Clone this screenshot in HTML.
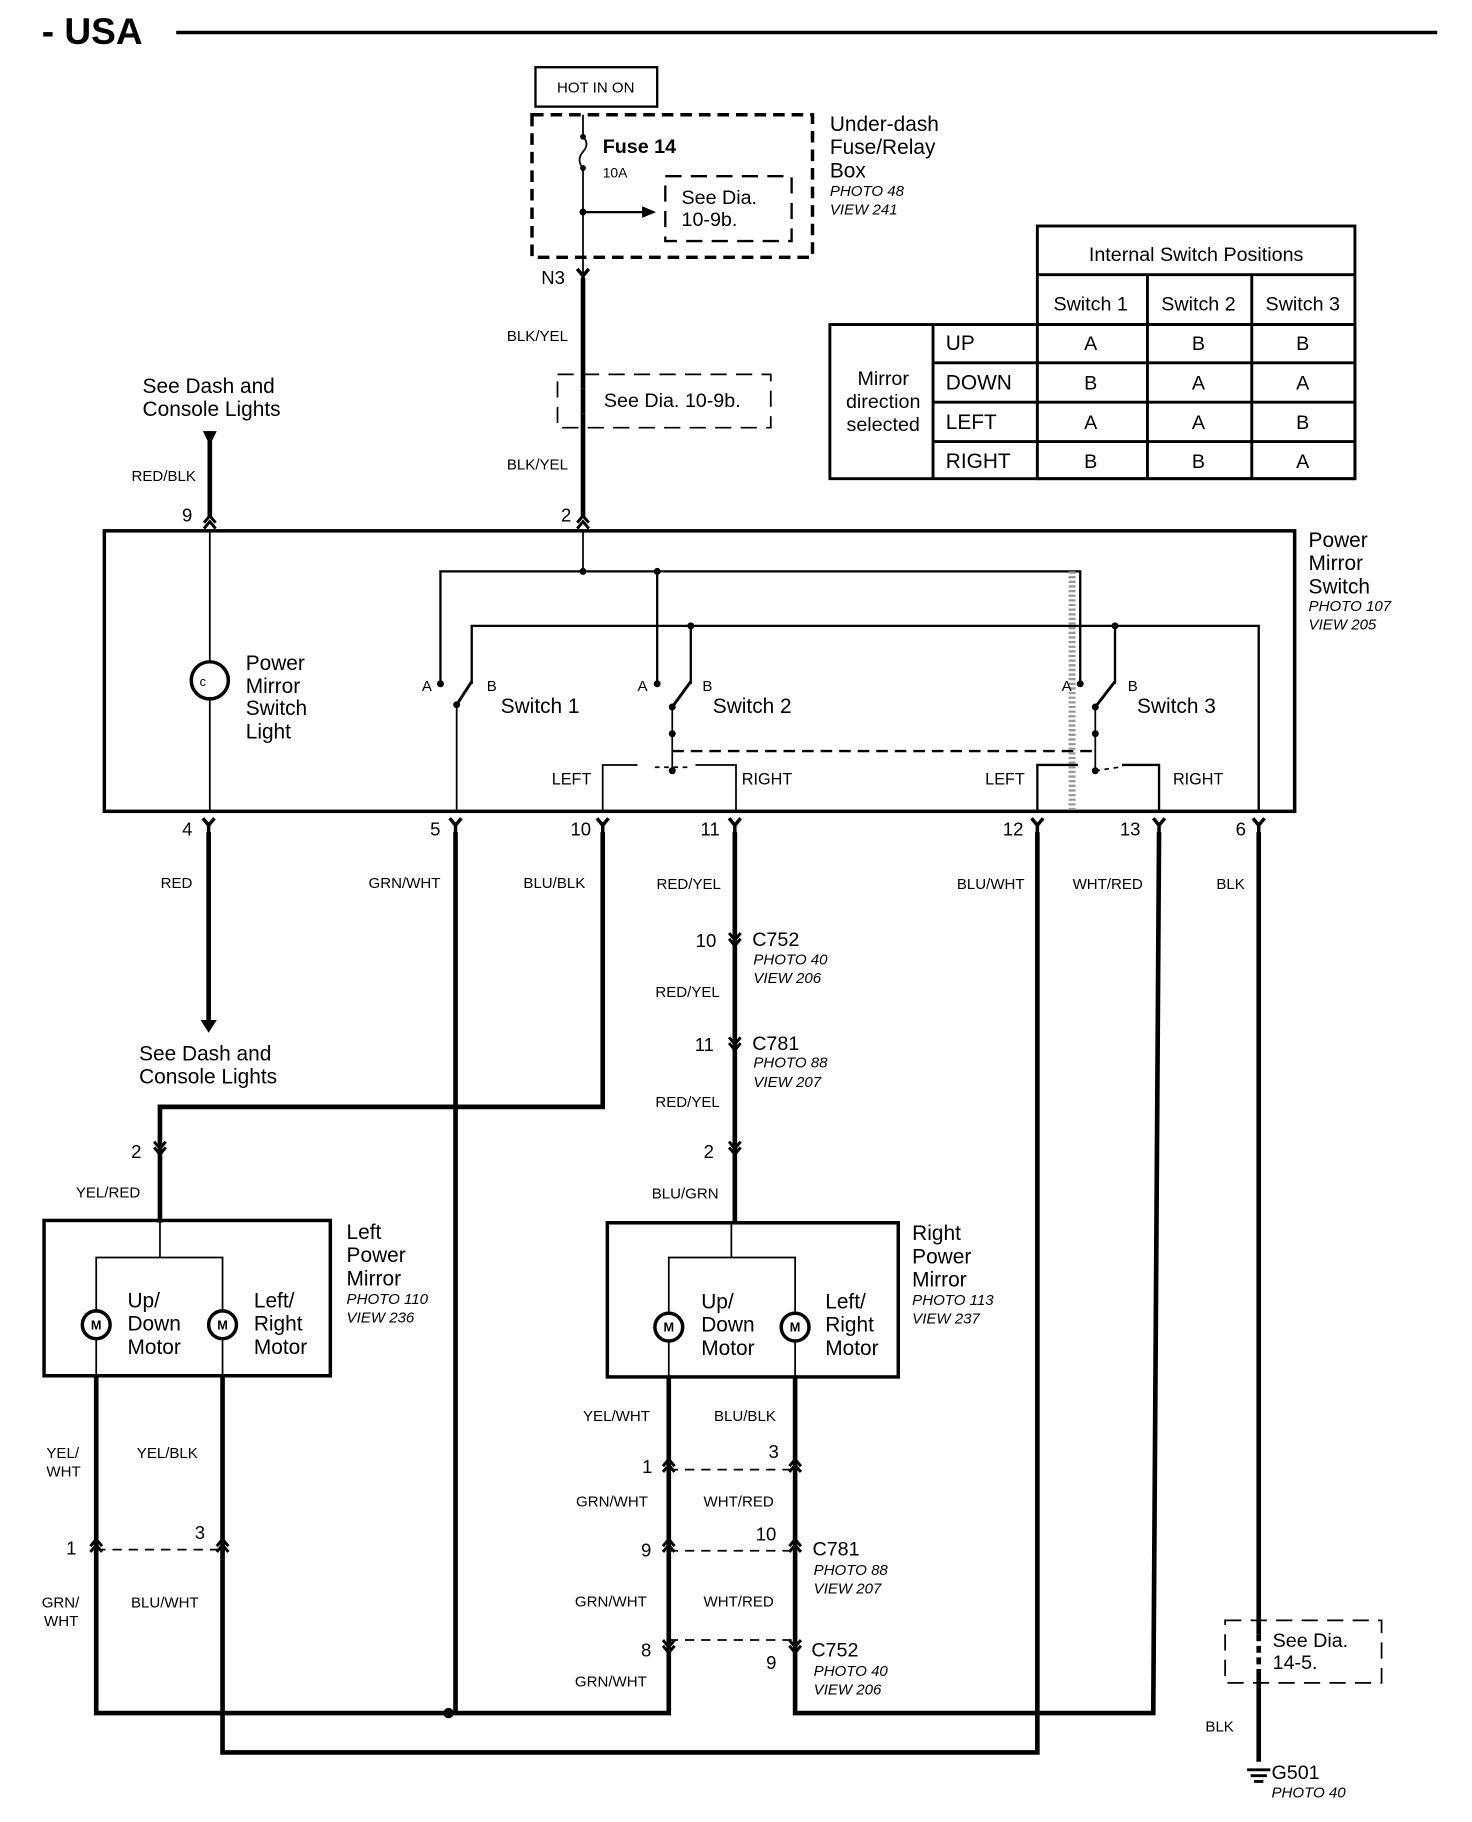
<!DOCTYPE html>
<html><head><meta charset="utf-8"><style>
html,body{margin:0;padding:0;background:#fff}
svg{display:block}
text{font-family:"Liberation Sans",sans-serif;fill:#000}
.w{font-size:13px}
.l{font-size:18px}
.i{font-size:13px;font-style:italic}
.b{font-weight:bold}
</style></head><body>
<svg width="1472" height="1822" viewBox="0 0 1270 1572" xmlns="http://www.w3.org/2000/svg">
<defs>
<g id="cu"><path d="M-5,7 L0,1 L5,7 M-5,12 L0,6 L5,12" fill="none" stroke="#000" stroke-width="2.5"/></g>
<g id="cy"><path d="M-5,-6 L0,0 L5,-6 M0,0 L0,8" fill="none" stroke="#000" stroke-width="3"/></g>
<g id="cd"><path d="M-5,-7 L0,-1 L5,-7 M-5,-12 L0,-6 L5,-12" fill="none" stroke="#000" stroke-width="2.5"/></g>
</defs>
<!-- title -->
<text x="36" y="38" font-size="32" class="b">- USA</text>
<line x1="152" y1="28" x2="1240" y2="28" stroke="#000" stroke-width="3"/>
<!-- fuse -->
<rect x="462" y="58" width="105" height="34" fill="none" stroke="#000" stroke-width="2"/>
<text x="514" y="80" font-size="13" text-anchor="middle">HOT IN ON</text>
<rect x="459" y="99" width="242" height="123" fill="none" stroke="#000" stroke-width="3" stroke-dasharray="10,6"/>
<path d="M503,99 L503,118 Q509,124 503,131 Q497,138 503,145 L503,240" fill="none" stroke="#000" stroke-width="1.5"/>
<circle cx="503" cy="118" r="2.5"/><circle cx="503" cy="145" r="2.5"/><circle cx="503" cy="183" r="3"/>
<line x1="503" y1="183" x2="556" y2="183" stroke="#000" stroke-width="2"/><path d="M554,178 L566,183 L554,188Z"/>
<text x="520" y="132" font-size="17" class="b">Fuse 14</text>
<text x="520" y="153" font-size="12">10A</text>
<rect x="574" y="152" width="109" height="56" fill="none" stroke="#000" stroke-width="2" stroke-dasharray="14,8"/>
<text x="588" y="176" font-size="17">See Dia.</text><text x="588" y="195" font-size="17">10-9b.</text>
<text x="716" y="113" class="l">Under-dash</text><text x="716" y="133" class="l">Fuse/Relay</text><text x="716" y="153" class="l">Box</text>
<text x="716" y="169" class="i">PHOTO 48</text><text x="716" y="185" class="i">VIEW 241</text>
<text x="467" y="245" font-size="16">N3</text>
<use href="#cy" x="503" y="238"/>
<line x1="503" y1="240" x2="503" y2="446" stroke="#000" stroke-width="4"/>
<text x="490" y="294" class="w" text-anchor="end">BLK/YEL</text>
<text x="490" y="405" class="w" text-anchor="end">BLK/YEL</text>
<rect x="481" y="323" width="184" height="46" fill="none" stroke="#000" stroke-width="1.5" stroke-dasharray="14,8"/>
<rect x="498" y="335" width="10" height="22" fill="#fff"/><line x1="503" y1="335" x2="503" y2="357" stroke="#000" stroke-width="4"/>
<text x="521" y="351" font-size="17">See Dia. 10-9b.</text>
<text x="484" y="450" font-size="16">2</text>
<use href="#cu" x="503" y="444"/>
<!-- table -->
<g fill="none" stroke="#000" stroke-width="2.5">
<rect x="895" y="195" width="274" height="218"/>
<rect x="716" y="280" width="453" height="133"/>
<line x1="895" y1="237" x2="1169" y2="237"/><line x1="895" y1="280" x2="1169" y2="280"/>
<line x1="990" y1="237" x2="990" y2="413"/><line x1="1080" y1="237" x2="1080" y2="413"/>
<line x1="805" y1="280" x2="805" y2="413"/>
<line x1="805" y1="313" x2="1169" y2="313"/><line x1="805" y1="347" x2="1169" y2="347"/><line x1="805" y1="381" x2="1169" y2="381"/>
</g>
<g font-size="17" text-anchor="middle">
<text x="1032" y="225">Internal Switch Positions</text>
<text x="941" y="268">Switch 1</text><text x="1034" y="268">Switch 2</text><text x="1124" y="268">Switch 3</text>
<text x="762" y="332">Mirror</text><text x="762" y="352">direction</text><text x="762" y="372">selected</text>
<text x="941" y="302">A</text><text x="1034" y="302">B</text><text x="1124" y="302">B</text>
<text x="941" y="336">B</text><text x="1034" y="336">A</text><text x="1124" y="336">A</text>
<text x="941" y="370">A</text><text x="1034" y="370">A</text><text x="1124" y="370">B</text>
<text x="941" y="404">B</text><text x="1034" y="404">B</text><text x="1124" y="404">A</text>
</g>
<g font-size="18"><text x="816" y="302">UP</text><text x="816" y="336">DOWN</text><text x="816" y="370">LEFT</text><text x="816" y="404">RIGHT</text></g>
<!-- left top -->
<text x="123" y="339" class="l">See Dash and</text><text x="123" y="359" class="l">Console Lights</text>
<path d="M175,372 L187,372 L181,384Z"/>
<line x1="181" y1="372" x2="181" y2="446" stroke="#000" stroke-width="4"/>
<text x="169" y="415" class="w" text-anchor="end">RED/BLK</text>
<text x="157" y="450" font-size="16">9</text>
<use href="#cu" x="181" y="444"/>
<!-- switch box -->
<rect x="90" y="458" width="1027" height="242" fill="none" stroke="#000" stroke-width="3"/>
<text x="1129" y="472" class="l">Power</text><text x="1129" y="492" class="l">Mirror</text><text x="1129" y="512" class="l">Switch</text>
<text x="1129" y="527" class="i">PHOTO 107</text><text x="1129" y="543" class="i">VIEW 205</text>
<g stroke="#000" stroke-width="1.5" fill="none">
<line x1="181" y1="458" x2="181" y2="571"/><line x1="181" y1="603" x2="181" y2="700"/>
<circle cx="181" cy="587" r="16" stroke-width="3"/>
<line x1="503" y1="458" x2="503" y2="493"/>
<polyline points="380,590 380,493 932,493 932,590" stroke-width="2"/>
<line x1="567" y1="493" x2="567" y2="590" stroke-width="2"/>
<polyline points="407,590 407,540 1086,540 1086,700" stroke-width="2"/>
<line x1="596" y1="540" x2="596" y2="590" stroke-width="2"/>
<line x1="962" y1="540" x2="962" y2="590" stroke-width="2"/>
<!-- switch blades -->
<line x1="394" y1="608" x2="407" y2="588" stroke-width="2.5"/><line x1="394" y1="608" x2="394" y2="700"/>
<line x1="580" y1="610" x2="596" y2="588" stroke-width="2.5"/><line x1="580" y1="610" x2="580" y2="665"/>
<line x1="945" y1="610" x2="962" y2="588" stroke-width="2.5"/><line x1="945" y1="610" x2="945" y2="665"/>
<line x1="580" y1="648" x2="945" y2="648" stroke-width="2" stroke-dasharray="10,6"/>
<polyline points="520,700 520,660 550,660"/><polyline points="635,700 635,660 600,660"/>
<line x1="565" y1="662" x2="595" y2="662" stroke-dasharray="4,4"/>
<polyline points="895,700 895,660 930,660" stroke-width="2"/><polyline points="1000,700 1000,660 968,660" stroke-width="2"/>
<line x1="945" y1="665" x2="965" y2="662" stroke-dasharray="4,4"/>
<line x1="925" y1="493" x2="925" y2="700" stroke="#999" stroke-width="6" stroke-dasharray="2,2"/>
</g>
<g><circle cx="503" cy="493" r="3"/><circle cx="567" cy="493" r="3"/><circle cx="596" cy="540" r="3"/><circle cx="962" cy="540" r="3"/>
<circle cx="380" cy="590" r="3"/><circle cx="567" cy="590" r="3"/><circle cx="932" cy="590" r="3"/>
<circle cx="394" cy="608" r="3"/><circle cx="580" cy="610" r="3"/><circle cx="945" cy="610" r="3"/>
<circle cx="580" cy="633" r="3"/><circle cx="945" cy="633" r="3"/><circle cx="580" cy="665" r="3"/><circle cx="945" cy="665" r="3"/></g>
<text x="175" y="592" font-size="11" text-anchor="middle">c</text>
<text x="212" y="578" class="l">Power</text><text x="212" y="598" class="l">Mirror</text><text x="212" y="617" class="l">Switch</text><text x="212" y="637" class="l">Light</text>
<g font-size="13"><text x="364" y="596">A</text><text x="420" y="596">B</text><text x="550" y="596">A</text><text x="606" y="596">B</text><text x="916" y="596">A</text><text x="973" y="596">B</text></g>
<g font-size="18"><text x="432" y="615">Switch 1</text><text x="615" y="615">Switch 2</text><text x="981" y="615">Switch 3</text></g>
<g font-size="14"><text x="476" y="677">LEFT</text><text x="640" y="677">RIGHT</text><text x="850" y="677">LEFT</text><text x="1012" y="677">RIGHT</text></g>
<!-- pins -->
<g font-size="16" text-anchor="end"><text x="166" y="721">4</text><text x="380" y="721">5</text><text x="510" y="721">10</text><text x="621" y="721">11</text><text x="883" y="721">12</text><text x="984" y="721">13</text><text x="1075" y="721">6</text></g>
<use href="#cy" x="180" y="712"/><use href="#cy" x="393" y="712"/><use href="#cy" x="520" y="712"/><use href="#cy" x="634" y="712"/><use href="#cy" x="895" y="712"/><use href="#cy" x="1000" y="712"/><use href="#cy" x="1086" y="712"/>
<g class="w" text-anchor="end"><text x="166" y="766">RED</text><text x="380" y="766">GRN/WHT</text><text x="505" y="766">BLU/BLK</text><text x="622" y="767">RED/YEL</text><text x="884" y="767">BLU/WHT</text><text x="986" y="767">WHT/RED</text><text x="1074" y="767">BLK</text></g>
<!-- wires -->
<g stroke="#000" stroke-width="4" fill="none">
<line x1="180" y1="718" x2="180" y2="880"/>
<line x1="393" y1="718" x2="393" y2="1478"/>
<polyline points="520,718 520,955 138,955 138,1055"/>
<line x1="634" y1="718" x2="634" y2="1056"/>
<polyline points="895,718 895,1512 192,1512 192,1187"/>
<polyline points="1000,718 995,1478 686,1478 686,1188"/>
<line x1="1086" y1="718" x2="1086" y2="1520"/>
<polyline points="83,1187 83,1478 577,1478 577,1188"/>
</g>
<path d="M173,880 L187,880 L180,891Z"/>
<circle cx="387" cy="1478" r="4.5"/>
<text x="120" y="915" class="l">See Dash and</text><text x="120" y="935" class="l">Console Lights</text>
<!-- center connectors -->
<use href="#cd" x="634" y="817"/><use href="#cd" x="634" y="907"/><use href="#cd" x="634" y="997"/><use href="#cd" x="138" y="997"/>
<g font-size="16" text-anchor="end"><text x="618" y="817">10</text><text x="616" y="907">11</text><text x="616" y="999">2</text><text x="122" y="999">2</text></g>
<text x="649" y="816" font-size="17">C752</text><text x="650" y="832" class="i">PHOTO 40</text><text x="650" y="848" class="i">VIEW 206</text>
<text x="649" y="906" font-size="17">C781</text><text x="650" y="921" class="i">PHOTO 88</text><text x="650" y="938" class="i">VIEW 207</text>
<g class="w" text-anchor="end"><text x="621" y="860">RED/YEL</text><text x="621" y="955">RED/YEL</text><text x="620" y="1034">BLU/GRN</text><text x="121" y="1033">YEL/RED</text></g>
<!-- left mirror -->
<rect x="38" y="1053" width="247" height="134" fill="none" stroke="#000" stroke-width="3"/>
<g stroke="#000" stroke-width="1.5" fill="none"><polyline points="83,1187 83,1085 192,1085 192,1187"/><line x1="138" y1="1055" x2="138" y2="1085"/>
<polyline points="577,1188 577,1085 686,1085 686,1188"/><line x1="631" y1="1056" x2="631" y2="1085"/></g>
<g fill="#fff" stroke="#000" stroke-width="3"><circle cx="83" cy="1143" r="12"/><circle cx="192" cy="1143" r="12"/><circle cx="577" cy="1145" r="12"/><circle cx="686" cy="1145" r="12"/></g>
<g font-size="11" class="b" text-anchor="middle"><text x="83" y="1147">M</text><text x="192" y="1147">M</text><text x="577" y="1149">M</text><text x="686" y="1149">M</text></g>
<g font-size="18"><text x="110" y="1128">Up/</text><text x="110" y="1148">Down</text><text x="110" y="1168">Motor</text>
<text x="219" y="1128">Left/</text><text x="219" y="1148">Right</text><text x="219" y="1168">Motor</text>
<text x="605" y="1129">Up/</text><text x="605" y="1149">Down</text><text x="605" y="1169">Motor</text>
<text x="712" y="1129">Left/</text><text x="712" y="1149">Right</text><text x="712" y="1169">Motor</text>
<text x="299" y="1069">Left</text><text x="299" y="1089">Power</text><text x="299" y="1109">Mirror</text>
<text x="787" y="1070">Right</text><text x="787" y="1090">Power</text><text x="787" y="1110">Mirror</text></g>
<text x="299" y="1125" class="i">PHOTO 110</text><text x="299" y="1141" class="i">VIEW 236</text>
<text x="787" y="1126" class="i">PHOTO 113</text><text x="787" y="1142" class="i">VIEW 237</text>
<rect x="524" y="1055" width="251" height="133" fill="none" stroke="#000" stroke-width="3"/>
<!-- lower connectors -->
<g stroke="#000" stroke-width="1.5" stroke-dasharray="8,6"><line x1="83" y1="1337" x2="192" y2="1337"/><line x1="577" y1="1268" x2="686" y2="1268"/><line x1="577" y1="1338" x2="686" y2="1338"/><line x1="577" y1="1415" x2="686" y2="1415"/></g>
<use href="#cu" x="83" y="1327"/><use href="#cu" x="192" y="1327"/><use href="#cu" x="577" y="1258"/><use href="#cu" x="686" y="1258"/><use href="#cu" x="577" y="1327"/><use href="#cu" x="686" y="1327"/>
<use href="#cd" x="577" y="1427"/><use href="#cd" x="686" y="1427"/>
<g font-size="16"><text x="57" y="1341">1</text><text x="168" y="1328">3</text><text x="554" y="1271">1</text><text x="663" y="1258">3</text><text x="553" y="1343">9</text><text x="652" y="1329">10</text><text x="553" y="1429">8</text><text x="661" y="1440">9</text></g>
<text x="701" y="1342" font-size="17">C781</text><text x="702" y="1359" class="i">PHOTO 88</text><text x="702" y="1375" class="i">VIEW 207</text>
<text x="700" y="1429" font-size="17">C752</text><text x="702" y="1446" class="i">PHOTO 40</text><text x="702" y="1462" class="i">VIEW 206</text>
<g class="w"><text x="40" y="1258">YEL/</text><text x="40" y="1274">WHT</text><text x="118" y="1258">YEL/BLK</text>
<text x="36" y="1387">GRN/</text><text x="38" y="1403">WHT</text><text x="113" y="1387">BLU/WHT</text>
<text x="503" y="1226">YEL/WHT</text><text x="616" y="1226">BLU/BLK</text>
<text x="497" y="1300">GRN/WHT</text><text x="607" y="1300">WHT/RED</text>
<text x="496" y="1386">GRN/WHT</text><text x="607" y="1386">WHT/RED</text>
<text x="496" y="1455">GRN/WHT</text>
<text x="1040" y="1494">BLK</text></g>
<!-- ground -->
<rect x="1057" y="1398" width="135" height="54" fill="none" stroke="#000" stroke-width="1.5" stroke-dasharray="14,8"/>
<rect x="1081" y="1410" width="10" height="30" fill="#fff"/><line x1="1086" y1="1410" x2="1086" y2="1440" stroke="#000" stroke-width="4" stroke-dasharray="6,4"/>
<text x="1098" y="1421" font-size="17">See Dia.</text><text x="1098" y="1440" font-size="17">14-5.</text>
<g stroke="#000" stroke-width="2.5"><line x1="1076" y1="1527" x2="1096" y2="1527"/><line x1="1079" y1="1532" x2="1093" y2="1532"/><line x1="1082" y1="1537" x2="1090" y2="1537"/></g>
<text x="1097" y="1535" font-size="17">G501</text><text x="1097" y="1551" class="i">PHOTO 40</text>
</svg>
</body></html>
